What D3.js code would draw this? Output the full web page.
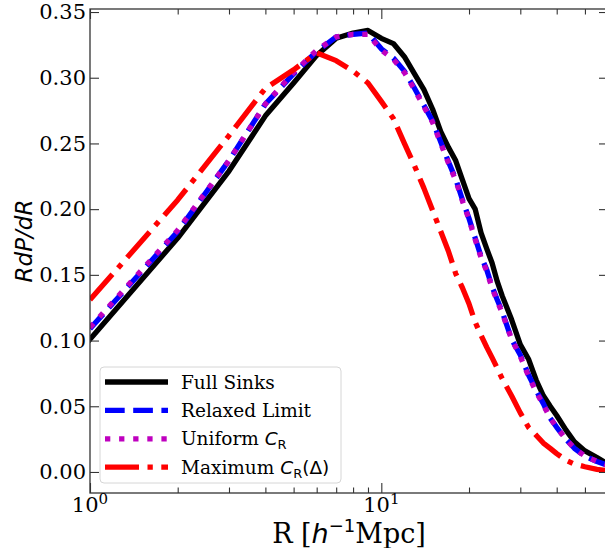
<!DOCTYPE html>
<html>
<head>
<meta charset="utf-8">
<script src="https://cdn.jsdelivr.net/npm/d3@7"></script>
<style>
  body { margin: 0; background: #fff; }
  svg { display: block; }
  text { font-family: "DejaVu Serif", serif; fill: #000; }
  .math { font-family: "DejaVu Sans", sans-serif; }
</style>
</head>
<body>
<div id="chart"></div>
<script>
// radius grid (h^-1 Mpc)
const radius = [1, 2, 3, 4, 5, 6, 7, 8, 9, 10, 11, 12, 13, 14, 15, 16, 17, 18, 19, 20,
  21, 22, 23, 24, 25, 26, 28, 30, 32, 34, 36, 38, 40, 43, 46, 50, 55, 60];

const fullSinks = [0.101, 0.178, 0.229, 0.271, 0.296, 0.317, 0.330, 0.334, 0.336, 0.330,
  0.326, 0.316, 0.303, 0.291, 0.276, 0.259, 0.247, 0.237, 0.222, 0.208,
  0.200, 0.182, 0.170, 0.159, 0.145, 0.134, 0.116, 0.097, 0.086, 0.070,
  0.058, 0.050, 0.043, 0.032, 0.023, 0.016, 0.011, 0.006];

const relaxedLimit = [0.109, 0.183, 0.237, 0.280, 0.303, 0.320, 0.331, 0.333, 0.334, 0.322,
  0.315, 0.305, 0.292, 0.279, 0.267, 0.251, 0.236, 0.223, 0.207, 0.193,
  0.178, 0.164, 0.154, 0.141, 0.131, 0.122, 0.101, 0.089, 0.074, 0.062,
  0.052, 0.041, 0.034, 0.025, 0.018, 0.012, 0.008, 0.005];

const uniformCR = [0.110, 0.184, 0.237, 0.280, 0.304, 0.321, 0.331, 0.333, 0.333, 0.321,
  0.314, 0.304, 0.291, 0.278, 0.266, 0.250, 0.235, 0.222, 0.206, 0.192,
  0.177, 0.163, 0.153, 0.140, 0.130, 0.121, 0.101, 0.088, 0.073, 0.061,
  0.051, 0.041, 0.034, 0.025, 0.018, 0.012, 0.008, 0.005];

const maximumCR = [0.131, 0.207, 0.256, 0.292, 0.306, 0.319, 0.313, 0.305, 0.296, 0.282,
  0.269, 0.250, 0.233, 0.216, 0.199, 0.183, 0.168, 0.151, 0.140, 0.128,
  0.114, 0.104, 0.095, 0.087, 0.079, 0.071, 0.058, 0.045, 0.034, 0.028,
  0.022, 0.018, 0.014, 0.009, 0.006, 0.004, 0.002, 0.001];

const yTicks = [0.00, 0.05, 0.10, 0.15, 0.20, 0.25, 0.30, 0.35];
const xMajor = [1, 10];
const xMinor = [2, 3, 4, 5, 6, 7, 8, 9, 20, 30, 40, 50, 60];

const W = 605, H = 548;
const plot = { left: 90, top: 9, right: 608, bottom: 493 };
const lw = 5.3;

const series = [
  { name: "full", values: fullSinks, color: "#000000", dash: null },
  { name: "relaxed", values: relaxedLimit, color: "#0000ff", dash: [19.7, 8.5] },
  { name: "uniform", values: uniformCR, color: "#bf00bf", dash: [5.3, 8.8] },
  { name: "maximum", values: maximumCR, color: "#ff0000", dash: [34, 8.5, 5.3, 8.5] }
];

const svg = d3.select("#chart").append("svg")
  .attr("width", W).attr("height", H);

const x = d3.scaleLog().domain([1, 60]).range([plot.left, plot.right]);
const y = d3.scaleLinear().domain([-0.016, 0.3523]).range([plot.bottom, plot.top]);

svg.append("defs").append("clipPath").attr("id", "clip")
  .append("rect")
  .attr("x", plot.left).attr("y", plot.top)
  .attr("width", plot.right - plot.left).attr("height", plot.bottom - plot.top);

// curves
const line = d3.line()
  .x((d, i) => x(radius[i]))
  .y(d => y(d));

const curves = svg.append("g").attr("clip-path", "url(#clip)");
series.forEach(s => {
  curves.append("path")
    .datum(s.values)
    .attr("d", line)
    .attr("fill", "none")
    .attr("stroke", s.color)
    .attr("stroke-width", lw)
    .attr("stroke-linejoin", "round")
    .attr("stroke-linecap", s.dash ? "butt" : "square")
    .attr("stroke-dasharray", s.dash ? s.dash.join(",") : null);
});

// axes (ticks inward on all sides)
const spine = "#333";
const yAxisL = svg.append("g").attr("transform", `translate(${plot.left},0)`)
  .call(d3.axisLeft(y).tickValues(yTicks).tickSize(-9).tickPadding(4).tickFormat(d3.format(".2f")));
const yAxisR = svg.append("g").attr("transform", `translate(${plot.right},0)`)
  .call(d3.axisRight(y).tickValues(yTicks).tickSize(-9).tickFormat(""));

const xAxisB = svg.append("g").attr("transform", `translate(0,${plot.bottom})`)
  .call(d3.axisBottom(x).tickValues(xMajor).tickSize(-10).tickFormat(""));
const xAxisBm = svg.append("g").attr("transform", `translate(0,${plot.bottom})`)
  .call(d3.axisBottom(x).tickValues(xMinor).tickSize(-5.5).tickFormat(""));
const xAxisT = svg.append("g").attr("transform", `translate(0,${plot.top})`)
  .call(d3.axisTop(x).tickValues(xMajor).tickSize(-10).tickFormat(""));
const xAxisTm = svg.append("g").attr("transform", `translate(0,${plot.top})`)
  .call(d3.axisTop(x).tickValues(xMinor).tickSize(-5.5).tickFormat(""));

[yAxisL, yAxisR, xAxisB, xAxisBm, xAxisT, xAxisTm].forEach(a => {
  a.select(".domain").remove();
  a.selectAll(".tick line").attr("stroke", spine).attr("stroke-width", 1.1);
});
yAxisL.selectAll(".tick text")
  .style("font-family", "'DejaVu Serif', serif")
  .style("font-size", "21px")
  .attr("fill", "#000");

svg.append("rect")
  .attr("x", plot.left).attr("y", plot.top)
  .attr("width", plot.right - plot.left).attr("height", plot.bottom - plot.top)
  .attr("fill", "none").attr("stroke", spine).attr("stroke-width", 1.3);

// x tick labels 10^0, 10^1
xMajor.forEach(v => {
  const t = svg.append("text")
    .attr("x", x(v)).attr("y", plot.bottom + 19)
    .attr("text-anchor", "middle")
    .style("font-size", "21px");
  t.append("tspan").text("10");
  t.append("tspan").attr("dy", -8).style("font-size", "15px").text(Math.round(Math.log10(v)));
});

// axis labels
const xl = svg.append("text")
  .attr("x", (plot.left + plot.right) / 2).attr("y", 543)
  .attr("text-anchor", "middle")
  .style("font-size", "27px");
xl.append("tspan").text("R [");
xl.append("tspan").attr("class", "math").style("font-style", "italic").text("h");
xl.append("tspan").attr("class", "math").attr("dy", -11).style("font-size", "18px").text("\u22121");
xl.append("tspan").attr("dy", 11).text("Mpc]");

svg.append("text")
  .attr("transform", `translate(32,241) rotate(-90)`)
  .attr("text-anchor", "middle")
  .attr("class", "math")
  .style("font-style", "italic")
  .style("font-size", "23px")
  .text("RdP/dR");

// legend
const legend = svg.append("g");
legend.append("rect")
  .attr("x", 100).attr("y", 367).attr("width", 241).attr("height", 116)
  .attr("rx", 4)
  .attr("fill", "#fff").attr("fill-opacity", 0.8)
  .attr("stroke", "#d6d6d6").attr("stroke-width", 1);

const legendRows = [
  { s: series[0], label: [{ t: "Full Sinks" }] },
  { s: series[1], label: [{ t: "Relaxed Limit" }] },
  { s: series[2], label: [{ t: "Uniform " }, { t: "C", math: true, it: true }, { t: "R", math: true, sub: true }] },
  { s: series[3], label: [{ t: "Maximum " }, { t: "C", math: true, it: true }, { t: "R", math: true, sub: true }, { t: "(\u0394)", math: true, up: true }] }
];

legendRows.forEach((row, i) => {
  const ly = 382 + i * 28.4;
  legend.append("line")
    .attr("x1", 105).attr("x2", 168).attr("y1", ly).attr("y2", ly)
    .attr("stroke", row.s.color).attr("stroke-width", lw)
    .attr("stroke-linecap", "butt")
    .attr("stroke-dasharray", row.s.dash ? row.s.dash.join(",") : null);
  const t = legend.append("text")
    .attr("x", 181).attr("y", ly + 6.5)
    .style("font-size", "18.5px");
  row.label.forEach(p => {
    const sp = t.append("tspan").text(p.t);
    if (p.math) sp.attr("class", "math");
    if (p.it) sp.style("font-style", "italic");
    if (p.sub) sp.attr("dy", 4).style("font-size", "13px");
    if (p.up) sp.attr("dy", -4);
  });
});
</script>
</body>
</html>
